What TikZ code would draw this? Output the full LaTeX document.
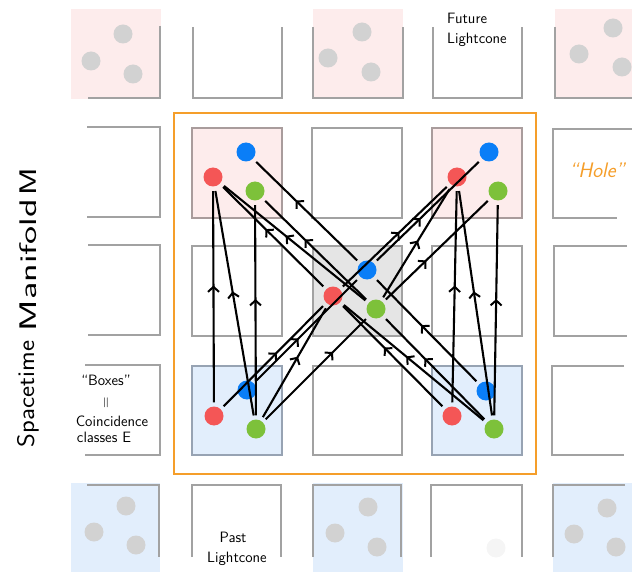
\documentclass[tikz,border=0pt]{standalone}
\usetikzlibrary{arrows.meta,decorations.markings}

\definecolor{boxgray}{HTML}{A2A2A2}
\definecolor{pinkedge}{HTML}{A99C9C}
\definecolor{blueedge}{HTML}{97A3B3}
\definecolor{pinkfill}{HTML}{FDECEC}
\definecolor{bluefill}{HTML}{E2EEFC}
\definecolor{centerfill}{HTML}{E5E5E5}
\definecolor{dotblue}{HTML}{0A7EF7}
\definecolor{dotred}{HTML}{F45656}
\definecolor{dotgreen}{HTML}{7DC13A}
\definecolor{dotgray}{HTML}{D2D2D2}
\definecolor{holeorange}{HTML}{F59E2A}

\tikzset{
  edge/.style={draw=boxgray, line width=2.4pt},
  cell/.style={edge, line join=miter},
  pt/.style={circle, inner sep=0pt, minimum size=19pt, draw=none},
  ghost/.style={pt, fill=dotgray},
  link/.style={line width=2.1pt, draw=black, shorten <=4pt, shorten >=4.5pt,
    postaction={decorate},
    decoration={markings, mark=at position #1 with
      {\arrow{Straight Barb[length=5pt,width=11pt,line width=2pt]}}}},
  link/.default=0.55,
  hand/.style={font=\sffamily\fontsize{15}{16}\selectfont, inner sep=0pt},
  bigword/.style={font=\sffamily\fontsize{24}{26}\selectfont, rotate=90, inner sep=0pt}
}

\begin{document}
\begin{tikzpicture}[x=1pt,y=-1pt]
\useasboundingbox (0,0) rectangle (632,572);

% ---------- outer ring of cells (partially outlined) ----------
% top row: future cells
\fill[pinkfill] (71,9) rectangle (161,99);
\fill[pinkfill] (313,9) rectangle (403,99);
\fill[pinkfill] (555,9) rectangle (632,99);
\draw[edge] (160,26) -- (160,98) -- (88,98);
\draw[edge] (193,27) -- (193,98) -- (282,98) -- (282,27);
\draw[edge] (313,27) -- (313,98) -- (403,98) -- (403,27);
\draw[edge] (433,27) -- (433,98) -- (522,98) -- (522,27);
\draw[edge] (555,27) -- (555,98) -- (632,98);

% left column
\draw[edge] (87,127) -- (160,127) -- (160,217) -- (87,217);
\draw[edge] (88,245) -- (160,245) -- (160,335) -- (88,335);
\draw[edge] (85,365) -- (160,365) -- (160,455) -- (85,455);

% right column
\draw[edge] (632,129) -- (553,129) -- (553,218) -- (617,218);
\draw[edge] (627,246) -- (554,246) -- (554,336) -- (627,336);
\draw[edge] (624,366) -- (552,366) -- (552,455) -- (624,455);

% bottom row: past cells
\fill[bluefill] (71,483) rectangle (160,572);
\fill[bluefill] (313,483) rectangle (403,572);
\fill[bluefill] (553,483) rectangle (632,572);
\draw[edge] (87,485) -- (159,485) -- (159,557);
\draw[edge] (192,557) -- (192,485) -- (281,485) -- (281,557);
\draw[edge] (313,557) -- (313,485) -- (401,485) -- (401,557);
\draw[edge] (431,557) -- (431,485) -- (522,485) -- (522,557);
\draw[edge] (553,557) -- (553,485) -- (625,485);

% grey coincidences in the outer cells
\node[ghost] (g1) at (123,34) {};
\node[ghost] (g2) at (91,61) {};
\node[ghost] (g3) at (133,74) {};
\node[ghost] (g4) at (362,32) {};
\node[ghost] (g5) at (328,58) {};
\node[ghost] (g6) at (371,72) {};
\node[ghost] (g7) at (613,28) {};
\node[ghost] (g8) at (579,54) {};
\node[ghost] (g9) at (622,67) {};
\node[ghost] (h1) at (126,506) {};
\node[ghost] (h2) at (94,532) {};
\node[ghost] (h3) at (136,545) {};
\node[ghost] (h4) at (368,507) {};
\node[ghost] (h5) at (335,533) {};
\node[ghost] (h6) at (377,547) {};
\node[pt, fill=black!4] (h7) at (496,548) {};
\node[ghost] (h8) at (607,508) {};
\node[ghost] (h9) at (574,534) {};
\node[ghost] (h10) at (616,547) {};

% ---------- the hole ----------
\draw[holeorange, line width=2.5pt] (174,113) rectangle (536,474);

% inner 3x3 cells
\draw[cell, draw=pinkedge, fill=pinkfill] (192,128) rectangle (282,218);
\draw[cell] (312,128) rectangle (402,218);
\draw[cell, draw=pinkedge, fill=pinkfill] (432,128) rectangle (522,218);
\draw[cell] (192,246) rectangle (282,336);
\draw[cell, fill=centerfill] (313,246) rectangle (402,336);
\draw[cell] (432,246) rectangle (522,336);
\draw[cell, draw=blueedge, fill=bluefill] (192,366) rectangle (282,455);
\draw[cell] (313,366) rectangle (402,455);
\draw[cell, draw=blueedge, fill=bluefill] (432,366) rectangle (522,455);

% coloured coincidences
\node[pt, fill=dotblue]  (tlB) at (246,152) {};
\node[pt, fill=dotred]   (tlR) at (213,177) {};
\node[pt, fill=dotgreen] (tlG) at (255,191) {};
\node[pt, fill=dotblue]  (trB) at (489,152) {};
\node[pt, fill=dotred]   (trR) at (457,177) {};
\node[pt, fill=dotgreen] (trG) at (498,191) {};
\node[pt, fill=dotblue]  (cB)  at (367,270) {};
\node[pt, fill=dotred]   (cR)  at (333,296) {};
\node[pt, fill=dotgreen] (cG)  at (376,309) {};
\node[pt, fill=dotblue]  (blB) at (247,390) {};
\node[pt, fill=dotred]   (blR) at (214,416) {};
\node[pt, fill=dotgreen] (blG) at (256,429) {};
\node[pt, fill=dotblue]  (brB) at (486,391) {};
\node[pt, fill=dotred]   (brR) at (452,416) {};
\node[pt, fill=dotgreen] (brG) at (494,429) {};

% causal links, always pointing to the future
\draw[link] (blR) -- (tlR);
\draw[link] (blG) -- (tlR);
\draw[link] (blG) -- (tlG);
\draw[link] (brR) -- (trR);
\draw[link] (brG) -- (trR);
\draw[link] (brG) -- (trG);

\draw[link=0.53] (blR) -- (cR);
\draw[link] (blG) -- (cR);
\draw[link=0.66] (blG) -- (cG);
\draw[link=0.42] (blB) -- (cB);
\draw[link=0.58] (brR) -- (cR);
\draw[link] (brG) -- (cR);
\draw[link=0.6] (brG) -- (cG);
\draw[link] (brB) -- (cB);

\draw[link=0.6] (cB) -- (tlB);
\draw[link=0.57] (cR) -- (tlR);
\draw[link=0.56] (cG) -- (tlR);
\draw[link=0.6] (cG) -- (tlG);
\draw[link=0.43] (cB) -- (trB);
\draw[link=0.54] (cR) -- (trR);
\draw[link=0.52] (cG) -- (trR);
\draw[link=0.4] (cG) -- (trG);

% ---------- labels ----------
\node[hand, anchor=west] (fut1) at (447,18) {Future};
\node[hand, anchor=west] (fut2) at (447,40) {Lightcone};
\node[hand] (past1) at (233,537) {Past};
\node[hand] (past2) at (237,559) {Lightcone};
\node[hand, font=\sffamily\itshape\fontsize{21}{22}\selectfont, text=holeorange] (hole) at (597,170) {``Hole''};
\node[hand] (bx1) at (106,380) {``Boxes''};
\node[hand, rotate=90] (bx2) at (107,403) {=};
\node[hand] (bx3) at (112,421) {Coincidence};
\node[hand] (bx4) at (104,437) {classes E};
\node[bigword] (sp1) at (28,394) {\scalebox{1.1}[1]{Spacetime}};
\node[bigword] (sp2) at (28,265) {\scalebox{1.6}[1]{Manifold}};
\node[bigword] (sp3) at (28,182) {\scalebox{1.4}[1]{M}};
\end{tikzpicture}
\end{document}
